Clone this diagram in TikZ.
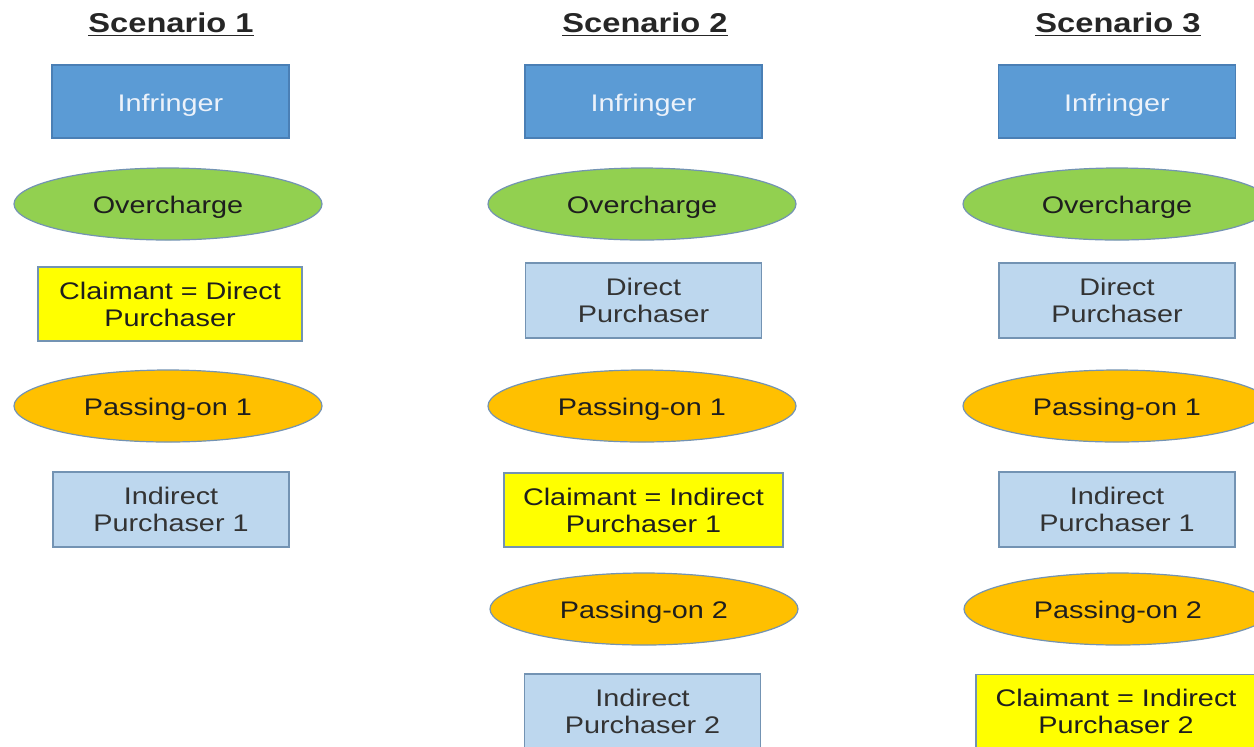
\documentclass[tikz,border=0pt]{standalone}
\usepackage{fontspec}
\setmainfont{Liberation Sans}[FakeStretch=1.2]
\usetikzlibrary{shapes.geometric}
\definecolor{infblue}{HTML}{5B9BD5}
\definecolor{infborder}{HTML}{4A7FB5}
\definecolor{ovgreen}{HTML}{92D050}
\definecolor{claimyellow}{HTML}{FFFF00}
\definecolor{passorange}{HTML}{FFC000}
\definecolor{purchblue}{HTML}{BDD7EE}
\definecolor{edgegrey}{HTML}{7393B3}
\definecolor{txtdark}{HTML}{1E1E1E}
\definecolor{txtlight}{HTML}{ECF2FA}
\tikzset{
  base/.style={inner sep=0pt, align=center, text=txtdark, draw=edgegrey, line width=0.6pt,
    font=\fontsize{12}{13.5}\selectfont},
  oneline/.style={text height=12.3pt, text depth=2.5pt},
  header/.style={inner sep=0pt, font=\bfseries\fontsize{13.6}{16}\selectfont, text=black!85},
  infbox/.style={base, oneline, rectangle, fill=infblue, draw=infborder, text=txtlight, minimum width=118.5pt, minimum height=36.5pt},
  ovell/.style={base, oneline, ellipse, fill=ovgreen, minimum width=154pt, minimum height=36pt},
  passell/.style={base, oneline, ellipse, fill=passorange, minimum width=154pt, minimum height=36pt},
  purchbox/.style={base, rectangle, fill=purchblue, text=black!80, minimum width=118pt, minimum height=37.5pt},
  claimbox/.style={base, rectangle, fill=claimyellow, minimum height=37pt},
}
\begin{document}
\begin{tikzpicture}[x=0.5pt, y=-0.5pt]
\useasboundingbox (0,0) rectangle (1254,746);
\clip (0,0) rectangle (1254,746);
\fill[white] (0,0) rectangle (1254,746);
% Scenario 1
\node[header] (h1) at (171,24.5) {\underline{Scenario 1}};
\node[infbox] (inf1) at (170.5,101.5) {Infringer};
\node[ovell] (ov1) at (168,204) {Overcharge};
\node[claimbox, minimum width=132pt] (cl1) at (170,304) {Claimant = Direct\\Purchaser};
\node[passell] (po11) at (168,406) {Passing-on 1};
\node[purchbox] (ip11) at (171,509.5) {Indirect\\Purchaser 1};
% Scenario 2
\node[header] (h2) at (645,24.5) {\underline{Scenario 2}};
\node[infbox] (inf2) at (643.5,101.5) {Infringer};
\node[ovell] (ov2) at (642,204) {Overcharge};
\node[purchbox] (dp2) at (643.5,300.5) {Direct\\Purchaser};
\node[passell] (po21) at (642,406) {Passing-on 1};
\node[claimbox, minimum width=139.5pt] (cl2) at (643.5,510) {Claimant = Indirect\\Purchaser 1};
\node[passell] (po22) at (644,609) {Passing-on 2};
\node[purchbox] (ip22) at (642.5,711.5) {Indirect\\Purchaser 2};
% Scenario 3
\node[header] (h3) at (1118,24.5) {\underline{Scenario 3}};
\node[infbox] (inf3) at (1117,101.5) {Infringer};
\node[ovell] (ov3) at (1117,204) {Overcharge};
\node[purchbox] (dp3) at (1117,300.5) {Direct\\Purchaser};
\node[passell] (po31) at (1117,406) {Passing-on 1};
\node[purchbox] (ip31) at (1117,509.5) {Indirect\\Purchaser 1};
\node[passell] (po32) at (1118,609) {Passing-on 2};
\node[claimbox, minimum width=140pt] (cl3) at (1116,711.5) {Claimant = Indirect\\Purchaser 2};
\end{tikzpicture}
\end{document}
